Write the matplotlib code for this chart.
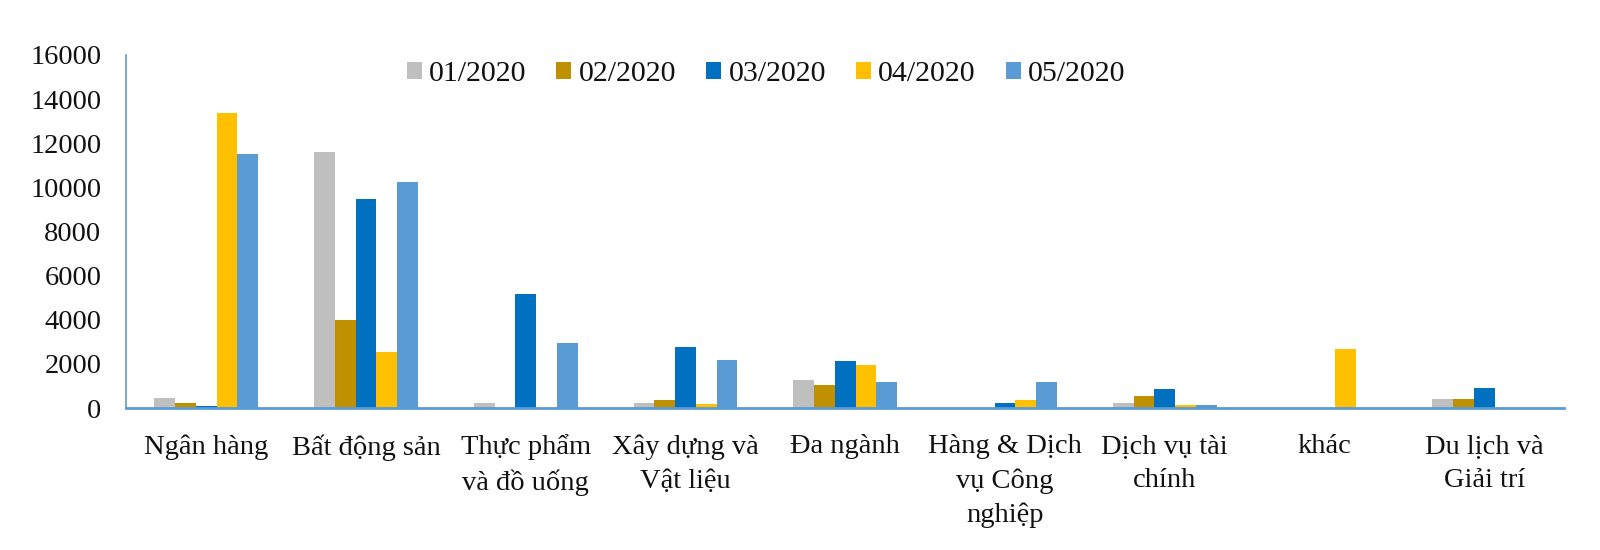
import numpy as np
import matplotlib
matplotlib.use('Agg')
import matplotlib.pyplot as plt

plt.rcParams['font.family'] = ['Liberation Serif', 'DejaVu Serif']

categories = ['Ngân hàng', 'Bất động sản', 'Thực phẩm\nvà đồ uống', 'Xây dựng và\nVật liệu',
              'Đa ngành', 'Hàng & Dịch\nvụ Công\nnghiệp', 'Dịch vụ tài\nchính', 'khác',
              'Du lịch và\nGiải trí']
months = ['01/2020', '02/2020', '03/2020', '04/2020', '05/2020']

m01 = [450, 11620, 250, 250, 1270, 0, 220, 0, 420]
m02 = [230, 3990, 0, 370, 1040, 0, 540, 0, 390]
m03 = [100, 9460, 5150, 2750, 2150, 250, 880, 0, 920]
m04 = [13360, 2550, 0, 170, 1950, 370, 120, 2660, 0]
m05 = [11500, 10260, 2940, 2180, 1170, 1180, 140, 0, 0]
series = [m01, m02, m03, m04, m05]

colors = ['#BFBFBF', '#BF9000', '#0070C0', '#FFC000', '#5B9BD5']

fig = plt.figure(figsize=(16, 5.5), dpi=100)
ax = fig.add_axes([0.079, 0.258, 0.8985, 0.642])

x = np.arange(len(categories))
w = 0.13
for i, vals in enumerate(series):
    ax.bar(x + (i - 2) * w, vals, width=w, color=colors[i], label=months[i])

ax.set_xlim(-0.5, len(categories) - 0.5)
ax.set_ylim(0, 16000)
ax.set_yticks(range(0, 16001, 2000))
ax.set_xticks(x)
ax.set_xticklabels(categories, fontsize=20.5, color='#111111', linespacing=1.45)
ax.tick_params(axis='y', length=0, pad=18, labelsize=20.5, labelcolor='#111111')
ax.tick_params(axis='x', length=0, pad=19)

for s in ['top', 'right']:
    ax.spines[s].set_visible(False)
ax.spines['left'].set_color('#5B9BD5')
ax.spines['left'].set_linewidth(1.2)
ax.spines['bottom'].set_color('#5B9BD5')
ax.spines['bottom'].set_linewidth(2)

ax.legend(loc='upper center', bbox_to_anchor=(0.445, 1.06), ncol=5, frameon=False,
          fontsize=21.5, handlelength=0.5, handleheight=0.5, handletextpad=0.25,
          columnspacing=1.0, labelcolor='#111111')

fig.savefig('out.png', dpi=100)
